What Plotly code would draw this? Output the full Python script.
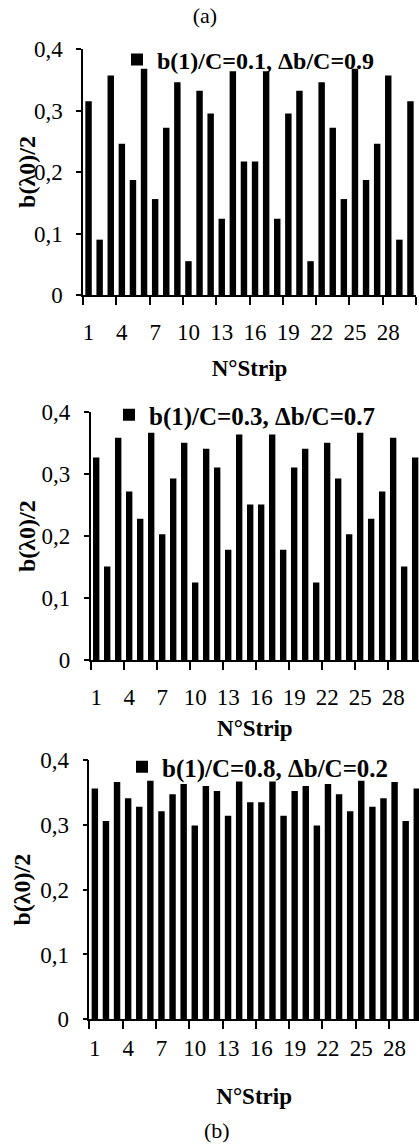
import plotly.graph_objects as go

W, H = 419, 1144

strips = list(range(1, 31))

vals_a = [0.315, 0.090, 0.357, 0.246, 0.187, 0.368, 0.156, 0.272, 0.346, 0.055,
          0.332, 0.295, 0.124, 0.364, 0.217, 0.217, 0.364, 0.124, 0.295, 0.332,
          0.055, 0.346, 0.272, 0.156, 0.368, 0.187, 0.246, 0.357, 0.090, 0.315]
vals_b = [0.327, 0.151, 0.359, 0.272, 0.228, 0.367, 0.203, 0.293, 0.351, 0.125,
          0.341, 0.311, 0.178, 0.364, 0.251, 0.251, 0.364, 0.178, 0.311, 0.341,
          0.125, 0.351, 0.293, 0.203, 0.367, 0.228, 0.272, 0.359, 0.151, 0.327]
vals_c = [0.356, 0.306, 0.366, 0.341, 0.328, 0.368, 0.321, 0.347, 0.363, 0.299,
          0.360, 0.352, 0.314, 0.367, 0.335, 0.335, 0.367, 0.314, 0.352, 0.360,
          0.299, 0.363, 0.347, 0.321, 0.368, 0.328, 0.341, 0.366, 0.306, 0.356]

names = ["b(1)/C=0.1, \u0394b/C=0.9",
         "b(1)/C=0.3, \u0394b/C=0.7",
         "b(1)/C=0.8, \u0394b/C=0.2"]

x_tick_labels = [str(v) for v in range(1, 29, 3)]
x_tick_vals = list(range(1, 29, 3))
x_boundaries = [v - 0.5 for v in range(1, 32, 3)]
y_ticks = [0, 0.1, 0.2, 0.3, 0.4]

FONT = "Liberation Serif"

# panel pixel geometry: (left, right, top, bottom, xmax)
panels = [
    (83.0, 416.0, 49.0, 295.0, 30.5),
    (90.7, 419.0, 412.3, 660.0, 30.35),
    (89.3, 419.0, 760.0, 1019.3, 30.2),
]
xlab_standoff = [21, 21, 13]
xtitle_standoff = [15, 10, 27]
ytitle_dist = [58, 66, 69]      # axis line -> title centre, px
legend_pos = [(137, 60), (129, 415), (142, 767)]
legend_size = [24, 25, 25]

fig = go.Figure()
series = [vals_a, vals_b, vals_c]
for i, (vals, name) in enumerate(zip(series, names)):
    sfx = "" if i == 0 else str(i + 1)
    fig.add_trace(go.Bar(
        x=strips, y=vals, name=name,
        marker=dict(color="black", line=dict(width=0)),
        xaxis="x" + sfx, yaxis="y" + sfx,
        legend="legend" + sfx, showlegend=True,
    ))

layout = dict(
    width=W, height=H,
    margin=dict(l=0, r=0, t=0, b=0),
    paper_bgcolor="white", plot_bgcolor="white",
    separators=",.",
    bargap=0.42,
    font=dict(family=FONT, color="black", size=23),
    title=dict(text="(a)", x=205 / W, xanchor="center", y=1 - 15 / H,
               yanchor="middle", font=dict(family=FONT, size=22, color="black")),
    annotations=[dict(text="(b)", x=217 / W, y=1 - 1130 / H, xref="paper",
                      yref="paper", showarrow=False, xanchor="center",
                      yanchor="middle", font=dict(family=FONT, size=22, color="black"))],
)

for i, (l, r, t, b, xmax) in enumerate(panels):
    sfx = "" if i == 0 else str(i + 1)
    xo = str(i + 4)
    yo = str(i + 7)
    # base x axis: line and tick marks between categories
    layout["xaxis" + sfx] = dict(
        domain=[l / W, r / W], anchor="y" + sfx,
        range=[0.5, xmax], tickmode="array", tickvals=x_boundaries,
        showticklabels=False, ticks="outside", ticklen=8, tickwidth=1.5,
        tickcolor="black", showgrid=False, zeroline=False,
        showline=True, linecolor="black", linewidth=1.5,
        automargin=False, fixedrange=True,
    )
    # overlay x axis: category labels centred under bars, plus title
    layout["xaxis" + xo] = dict(
        overlaying="x" + sfx, anchor="y" + sfx, side="bottom",
        range=[0.5, xmax], tickmode="array", tickvals=x_tick_vals,
        ticktext=x_tick_labels, ticks="", showgrid=False, zeroline=False,
        showline=False, tickfont=dict(family=FONT, size=23, color="black"),
        ticklabelstandoff=xlab_standoff[i],
        title=dict(text="<b>N\u00b0Strip</b>", standoff=xtitle_standoff[i],
                   font=dict(family=FONT, size=23, color="black")),
        automargin=False, fixedrange=True,
    )
    layout["yaxis" + sfx] = dict(
        domain=[1 - b / H, 1 - t / H], anchor="x" + sfx,
        range=[0, 0.4], tickmode="array", tickvals=y_ticks,
        ticks="outside", ticklen=5, tickwidth=1.5, tickcolor="black",
        showgrid=False, zeroline=False, showline=True, linecolor="black",
        linewidth=1.5, tickfont=dict(family=FONT, size=23, color="black"),
        ticklabelstandoff=9,
        automargin=False, fixedrange=True,
    )
    # overlay y axis carrying only the title
    layout["yaxis" + yo] = dict(
        overlaying="y" + sfx, anchor="x" + sfx, side="left",
        range=[0, 0.4], showticklabels=False, ticks="", showline=False,
        showgrid=False, zeroline=False,
        title=dict(text="<b>b(\u03bb0)/2</b>", standoff=ytitle_dist[i] - 19,
                   font=dict(family=FONT, size=24, color="black")),
        automargin=False, fixedrange=True,
    )
    mx, my = legend_pos[i]
    layout["legend" + sfx] = dict(
        x=(mx - 20) / W, xanchor="left", y=1 - my / H, yanchor="middle",
        bgcolor="rgba(0,0,0,0)", borderwidth=0,
        font=dict(family=FONT, size=legend_size[i], color="black", weight="bold"),
        itemwidth=30, tracegroupgap=0,
    )

fig.update_layout(**layout)

# invisible helper traces so the overlay axes are drawn
for i, vals in enumerate(series):
    fig.add_trace(go.Scatter(x=strips, y=vals, mode="none", showlegend=False,
                             hoverinfo="skip", xaxis="x" + str(i + 4),
                             yaxis="y" + str(i + 7)))

fig.write_html("out.html",
               config={"displayModeBar": False},
               post_script="document.body.style.margin='0';"
                           "document.body.style.overflow='hidden';")
